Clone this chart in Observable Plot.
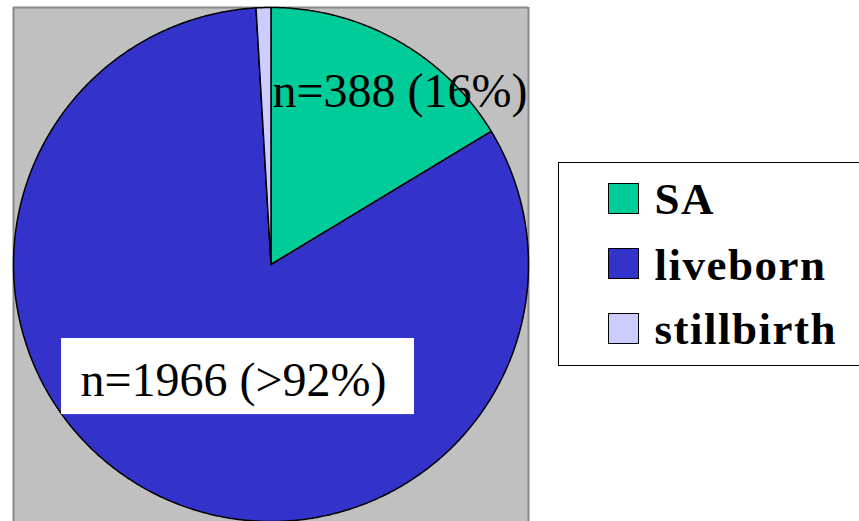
<!DOCTYPE html>
<html><head><meta charset="utf-8">
<script src="https://cdn.jsdelivr.net/npm/d3@7"></script>
<script src="https://cdn.jsdelivr.net/npm/@observablehq/plot@0.6"></script>
<style>
html,body{margin:0;padding:0;background:#fff;overflow:hidden}
#wrap{position:relative;width:859px;height:521px;overflow:hidden}
#legend{position:absolute;left:558px;top:162px;width:330px;height:202px;border:1.5px solid #000;background:#fff;font-family:"Liberation Serif","Times New Roman",Times,Tinos,"DejaVu Serif",serif;font-weight:bold;font-size:45px;letter-spacing:1.5px;color:#000}
.sw{position:absolute;width:31px;height:31px;border:1.5px solid #000;box-sizing:border-box}
.lab{position:absolute;line-height:45px;white-space:nowrap}
</style>
</head><body>
<div id="wrap"></div>
<script>
const categories = ["SA", "liveborn", "stillbirth"];
const counts = [388, 1966, 22];
const colors = ["#00CC99", "#3333CC", "#CCCCFF"];
const labelTexts = ["n=388 (16%)", "n=1966 (>92%)"];

const rows = categories.map((c, i) => ({category: c, count: counts[i]}));
const arcs = d3.pie().sort(null).value(d => d.count)(rows);
const pts = [];
for (const a of arcs) {
  const cat = a.data.category;
  pts.push({category: cat, x: 0, y: 0});
  const n = Math.max(2, Math.ceil((a.endAngle - a.startAngle) / (Math.PI / 360)));
  for (let k = 0; k <= n; k++) {
    const t = a.startAngle + (a.endAngle - a.startAngle) * k / n;
    pts.push({category: cat, x: Math.sin(t), y: Math.cos(t)});
  }
  pts.push({category: cat, x: 0, y: 0});
}

const labels = [
  {x: 0.006, y: 0.611, text: labelTexts[0]},
  {x: -0.740, y: -0.510, text: labelTexts[1]}
];
const boxes = [{x1: -0.8136, x2: 0.5573, y1: -0.288, y2: -0.584}];
const serif = "'Liberation Serif', 'Times New Roman', Times, Tinos, 'DejaVu Serif', serif";

const chart = Plot.plot({
  width: 859, height: 521,
  marginLeft: 13, marginRight: 331, marginTop: 7, marginBottom: 0,
  x: {domain: [-1, 1], axis: null},
  y: {domain: [-1, 1], axis: null},
  color: {domain: categories, range: colors},
  style: {background: "transparent", overflow: "visible"},
  marks: [
    Plot.frame({fill: "#c0c0c0", stroke: "none"}),
    Plot.ruleX([-1, 1], {stroke: "#888888", strokeWidth: 2}),
    Plot.ruleY([1], {stroke: "#888888", strokeWidth: 2}),
    Plot.line(pts, {x: "x", y: "y", z: "category", fill: "category", stroke: "black", strokeWidth: 1.5, strokeLinejoin: "round"}),
    Plot.rect(boxes, {x1: "x1", x2: "x2", y1: "y1", y2: "y2", fill: "white"}),
    Plot.text(labels, {x: "x", y: "y", text: "text", textAnchor: "start", lineAnchor: "bottom", fontFamily: serif, fontSize: 48, fill: "black"})
  ]
});
const wrap = document.getElementById("wrap");
wrap.appendChild(chart);

const color = chart.scale("color");
const legend = document.createElement("div");
legend.id = "legend";
const swTops = [19.5, 84.5, 149.5];
const labTops = [14, 80, 144];
categories.forEach((c, i) => {
  const sw = document.createElement("div");
  sw.className = "sw";
  sw.style.left = "48.5px";
  sw.style.top = swTops[i] + "px";
  sw.style.background = color.apply(c);
  legend.appendChild(sw);
  const lb = document.createElement("div");
  lb.className = "lab";
  lb.style.left = "95.5px";
  lb.style.top = labTops[i] + "px";
  lb.textContent = c;
  legend.appendChild(lb);
});
wrap.appendChild(legend);
</script>
</body></html>
